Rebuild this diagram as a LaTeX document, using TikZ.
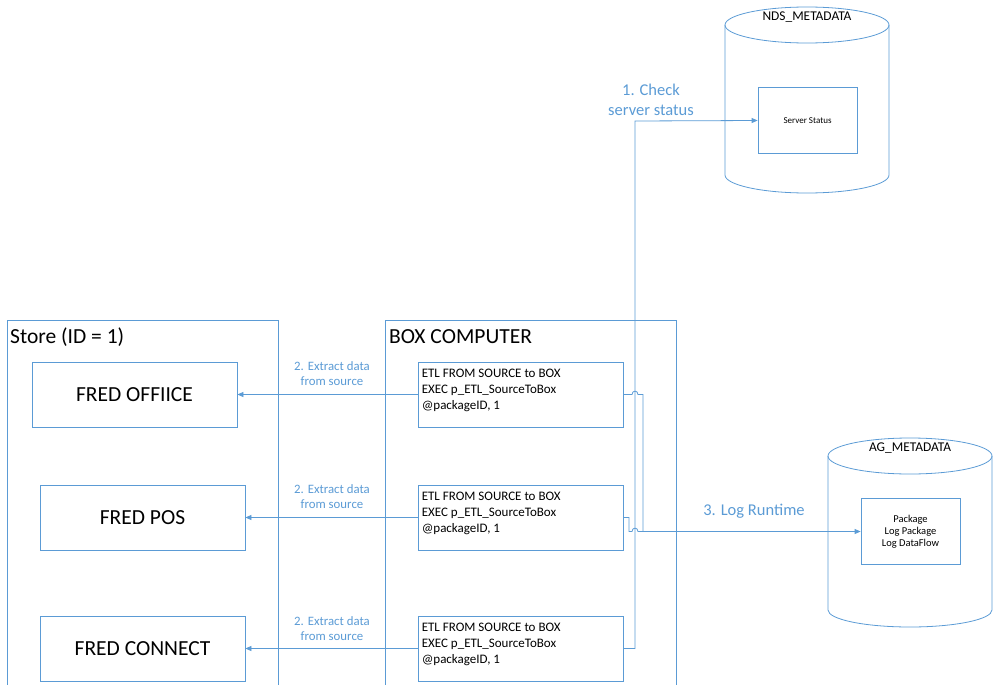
\documentclass[tikz,border=0pt]{standalone}
\usepackage{fontspec}
\setmainfont{Carlito}
\usetikzlibrary{arrows.meta}
\definecolor{ln}{RGB}{91,155,213}
\definecolor{lbl}{RGB}{91,155,213}
\tikzset{
  box/.style={draw=ln,line width=0.8pt,inner sep=0pt},
  conn/.style={draw=ln,line width=0.8pt},
  arr/.style={conn,-{Triangle[length=6pt,width=5pt]}},
  bigtxt/.style={font=\fontsize{21.5}{24}\selectfont,inner sep=0pt},
  etltxt/.style={font=\fontsize{13}{16}\selectfont,align=left,inner sep=0pt,anchor=north west},
  lab/.style={text=lbl,font=\fontsize{12.8}{15}\selectfont,align=center,inner sep=0pt},
  biglab/.style={text=lbl,font=\fontsize{16.5}{20}\selectfont,align=center,inner sep=0pt},
  dbt/.style={font=\fontsize{13.4}{16}\selectfont,inner sep=0pt},
  small/.style={font=\fontsize{10.5}{12}\selectfont,align=center,inner sep=0pt}
}
\begin{document}
\begin{tikzpicture}[x=1pt,y=-1pt]
\useasboundingbox (0,0) rectangle (996,685);
% containers
\draw[conn] (7,686) -- (7,320) -- (278,320) -- (278,686);
\draw[conn] (385,686) -- (385,320) -- (676,320) -- (676,686);
\node[bigtxt,anchor=west] (storet) at (10,337) {Store (ID = 1)};
\node[bigtxt,anchor=west] (boxt) at (389,337) {BOX COMPUTER};
% FRED boxes
\node[box,minimum width=205pt,minimum height=65pt,bigtxt] (fo) at (134.5,394.5) {FRED OFFIICE};
\node[box,minimum width=205pt,minimum height=65pt,bigtxt] (fp) at (142.5,517.5) {FRED POS};
\node[box,minimum width=205pt,minimum height=65pt,bigtxt] (fc) at (142.5,648.5) {FRED CONNECT};
% ETL boxes
\node[box,minimum width=205pt,minimum height=65pt] (e1) at (520.5,394.5) {};
\node[box,minimum width=205pt,minimum height=65pt] (e2) at (520.5,517.5) {};
\node[box,minimum width=205pt,minimum height=65pt] (e3) at (520.5,648.5) {};
\foreach \n in {e1,e2,e3}{
  \node[etltxt] (\n t) at ([xshift=4pt,yshift=-7pt]\n.north west) {ETL FROM SOURCE to BOX\\EXEC p\_ETL\_SourceToBox\\@packageID, 1};
}
% arrows to FRED
\draw[arr] (e1.west) -- (fo.east);
\draw[arr] (e2.west) -- (fp.east);
\draw[arr] (e3.west) -- (fc.east);
\node[lab] (l1) at (332,373.5) {2. Extract data\\from source};
\node[lab] (l2) at (332,497) {2. Extract data\\from source};
\node[lab] (l3) at (332,628.5) {2. Extract data\\from source};
% NDS cylinder
\draw[conn] (725,25) -- (725,175) arc[start angle=180,end angle=360,x radius=82,y radius=-18] -- (889,25);
\draw[conn] (807,25) ellipse [x radius=82,y radius=18];
\node[dbt] (ndst) at (807,17) {NDS\_METADATA};
\node[box,minimum width=99pt,minimum height=66pt] (ss) at (807.5,120.5) {};
\node[small] (sst) at (ss.center) {\fontsize{9}{10}\selectfont Server Status};
% AG cylinder
\draw[conn] (828,456) -- (828,610) arc[start angle=180,end angle=360,x radius=82,y radius=-17] -- (992,456);
\draw[conn] (910,456) ellipse [x radius=82,y radius=18];
\node[dbt] (agt) at (910,448) {AG\_METADATA};
\node[box,minimum width=99pt,minimum height=66pt] (ag) at (910.5,531.5) {};
\node[small] (agtx) at (ag.center) {Package\\Log Package\\Log DataFlow};
% check server status
\coordinate (c1) at (635,648.5);
\draw[arr] (e3.east) -- (c1) -- (635,121) -- (ss.west);
\node[biglab] (cl) at (651,100) {1. Check\\server status};
% log runtime
\coordinate (j1) at (643,531.5);
\draw[conn] (e1.east) -- (632,394.5) .. controls (632,390) and (638,390) .. (638,394.5) -- (643,394.5) -- (j1);
\draw[conn] (e2.east) -- (629,517.5) -- (629,531.5) -- (632,531.5) .. controls (632,527) and (638,527) .. (638,531.5) -- (j1);
\draw[arr] (j1) -- (ag.west);
\node[biglab] (lr) at (754,511) {3. Log Runtime};
\end{tikzpicture}
\end{document}
